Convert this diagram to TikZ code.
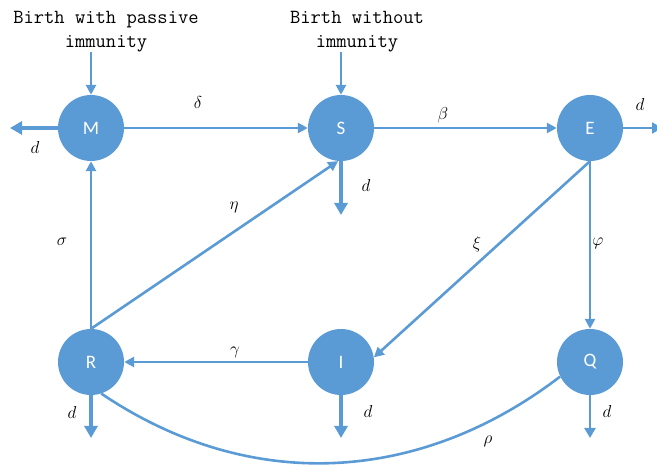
\documentclass[tikz,border=0pt]{standalone}
\usepackage{fontspec}
\newfontfamily\boxfont{Carlito}
\usetikzlibrary{arrows.meta}
\definecolor{cblue}{HTML}{5B9BD5}
\tikzset{
  x=1pt, y=1pt,
  comp/.style={circle, fill=cblue, minimum size=66pt, inner sep=0pt, text=white, font=\boxfont\fontsize{19}{22}\selectfont},
  flow/.style={draw=cblue, line width=2.6pt, -{Triangle[length=10pt,width=10pt]}},
  death/.style={draw=cblue, line width=4pt, -{Triangle[length=12pt,width=13pt]}},
  thindeath/.style={draw=cblue, line width=2.6pt, -{Triangle[length=10pt,width=11pt]}},
  rate/.style={font=\fontsize{17}{19}\selectfont},
  birthtxt/.style={font=\ttfamily\fontsize{20}{24}\selectfont, align=center, inner sep=0pt}
}
\begin{document}
\begin{tikzpicture}
\useasboundingbox (0,0) rectangle (657,466);
% compartments
\node[comp] (M) at (91,338) {M};
\node[comp] (S) at (341,338) {S};
\node[comp] (E) at (590,338) {E};
\node[comp] (R) at (91,104) {R};
\node[comp] (I) at (341,104) {I};
\node[comp] (Q) at (590,104) {Q};
% birth texts
\node[birthtxt] (bM) at (106,434) {Birth with passive\\immunity};
\node[birthtxt] (bS) at (357,434) {Birth without\\immunity};
\coordinate (bMa) at (91,414);
\coordinate (bSa) at (341,414);
\draw[flow] (bMa) -- (M.north);
\draw[flow] (bSa) -- (S.north);
% transfers
\draw[flow] (M.east) -- (S.west);
\draw[flow] (S.east) -- (E.west);
\draw[flow] (R.north) -- (M.south);
\draw[flow] (R.north) -- (S.265);
\draw[flow] (E.south) -- (Q.north);
\draw[flow] (E.south) -- (I.8);
\draw[flow] (I.west) -- (R.east);
\draw[draw=cblue, line width=2.6pt] (R.-72) .. controls (250,-28) and (420,-18) .. (Q.206);
% deaths
\coordinate (dM) at (10,338);
\coordinate (dS) at (341,251);
\coordinate (dE) at (662,338);
\coordinate (dR) at (91,28);
\coordinate (dI) at (341,28);
\coordinate (dQ) at (590,28);
\draw[death] (M.west) -- (dM);
\draw[death] (S.south) -- (dS);
\draw[thindeath] (E.east) -- (dE);
\draw[death] (R.south) -- (dR);
\draw[death] (I.south) -- (dI);
\draw[thindeath] (Q.south) -- (dQ);
% rate labels
\node[rate] (ldelta) at (198,363) {$\delta$};
\node[rate] (lbeta) at (443,351) {$\beta$};
\node[rate] (leta) at (234,259) {$\eta$};
\node[rate] (lsigma) at (62,224) {$\sigma$};
\node[rate] (lxi) at (477,222) {$\xi$};
\node[rate] (lphi) at (598,223) {$\varphi$};
\node[rate] (lgamma) at (235,114) {$\gamma$};
\node[rate] (lrho) at (488,25) {$\rho$};
\node[rate] (ldM) at (35,318) {$d$};
\node[rate] (ldS) at (366,280) {$d$};
\node[rate] (ldE) at (640,361) {$d$};
\node[rate] (ldR) at (72,53) {$d$};
\node[rate] (ldI) at (368,54) {$d$};
\node[rate] (ldQ) at (607,54) {$d$};
\end{tikzpicture}
\end{document}
